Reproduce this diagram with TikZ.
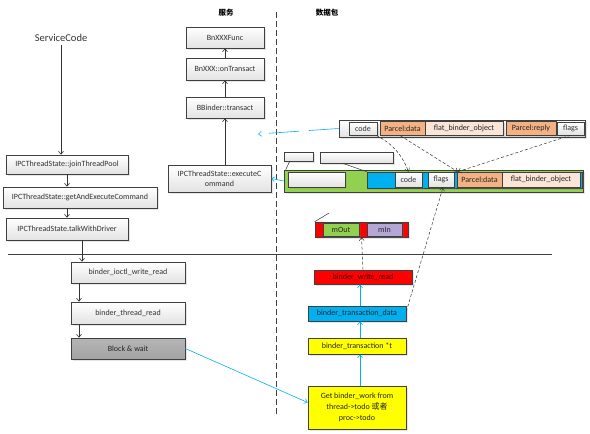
\documentclass[tikz,border=0pt]{standalone}
\usepackage{fontspec}
\setmainfont{Carlito}
\newfontfamily\cjk{Noto Sans CJK SC}
\usetikzlibrary{arrows.meta,shadows}
\definecolor{lcyan}{HTML}{00B0F0}
\definecolor{lgreen}{HTML}{92D050}
\definecolor{lorange}{HTML}{F4B183}
\definecolor{lpeach}{HTML}{FBE5D6}
\definecolor{lpurple}{HTML}{B4A7D6}
\definecolor{txt}{HTML}{333333}
\tikzset{
  box/.style={draw=black!75, line width=0.6pt, top color=white, bottom color=gray!22,
    inner sep=1pt, text=txt, align=center,
    drop shadow={opacity=0.2, shadow xshift=1.5pt, shadow yshift=-1.5pt}},
  flat/.style={box, fill=#1, top color=#1, bottom color=#1, text=black!85},
  arr/.style={-{Straight Barb[length=3pt,width=5pt]}, black!80, line width=0.6pt},
  carr/.style={-{Straight Barb[length=3pt,width=5pt]}, lcyan, line width=0.6pt},
  darr/.style={-{Straight Barb[length=3pt,width=5pt]}, black!80, line width=0.5pt, dash pattern=on 3pt off 2pt},
}
\begin{document}
\begin{tikzpicture}[x=1pt,y=-1pt, font=\fontsize{8}{10}\selectfont]
\useasboundingbox (0,0) rectangle (590,434);

% titles
\node[font=\cjk\fontsize{7.5}{8}\selectfont\bfseries] (t1) at (226,13) {服务};
\node[font=\cjk\fontsize{7.5}{8}\selectfont\bfseries] (t2) at (327,13) {数据包};
\node[font=\fontsize{10.5}{12}\selectfont, text=txt] (sc) at (61,38) {ServiceCode};

% separators
\draw[black!75, line width=0.6pt, dash pattern=on 6pt off 3pt] (276,12) coordinate (vt) -- (276,415) coordinate (vb);
\draw[black!75, line width=0.6pt] (8,254) coordinate (hl) -- (552,254) coordinate (hr);

% left column
\node[box, minimum width=122, minimum height=19] (join) at (67,164.5) {IPCThreadState::joinThreadPool};
\node[box, minimum width=154, minimum height=21] (gaec) at (80,197.5) {IPCThreadState::getAndExecuteCommand};
\node[box, minimum width=122, minimum height=22] (talk) at (67,229) {IPCThreadState.talkWithDriver};
\node[box, minimum width=114, minimum height=21] (ioctl) at (128,272.5) {binder\_ioctl\_write\_read};
\node[box, minimum width=114, minimum height=22] (tread) at (128,313) {binder\_thread\_read};
\node[box, top color=gray!58, bottom color=gray!72, text=black!85, minimum width=114, minimum height=21] (block) at (128,348.5) {Block \& wait};

\draw[arr] (sc.south) -- (sc.south |- join.north);
\draw[arr] (join.south) -- (join.south |- gaec.north);
\draw[arr] (gaec.south -| talk.north) -- (talk.north);
\draw[arr] ([xshift=15]talk.south) -- ([xshift=15]talk.south |- ioctl.north);
\draw[arr] ([xshift=-49]ioctl.south) -- ([xshift=-49]ioctl.south |- tread.north);
\draw[arr] ([xshift=-49]tread.south) -- ([xshift=-49]tread.south |- block.north);

% middle column
\node[box, minimum width=78, minimum height=21] (func) at (225,37.5) {BnXXXFunc};
\node[box, minimum width=78, minimum height=22] (ontr) at (225,69) {BnXXX::onTransact};
\node[box, minimum width=78, minimum height=21] (btr) at (225,107.5) {BBinder::transact};
\node[box, minimum width=103, minimum height=27, inner sep=0pt] (exec) at (219.5,178.5) {IPCThreadState::executeC\\ommand};
\draw[arr] (exec.north -| btr.south) -- (btr.south);
\draw[arr] (btr.north) -- (ontr.south);
\draw[arr] (ontr.north) -- (func.south);

% top packet bar
\node[box, minimum width=246, minimum height=17] (tb) at (462,128.5) {};
\node[box, minimum width=28, minimum height=13, inner sep=0pt] (tcode) at (363,128.5) {code};
\node[flat=lorange, minimum width=45, minimum height=14, inner sep=0pt] (tpd) at (402.5,128.5) {Parcel:data};
\node[flat=lpeach, minimum width=78, minimum height=14, inner sep=0pt] (tfbo) at (464,128.5) {flat\_binder\_object};
\node[flat=lorange, minimum width=50, minimum height=14, inner sep=0pt] (tpr) at (531,128.5) {Parcel:reply};
\node[box, minimum width=27, minimum height=13, inner sep=0pt] (tflags) at (570.5,128.5) {flags};

% green bar
\node[flat=lgreen, minimum width=299, minimum height=22] (gb) at (433.5,181) {};
\node[box, minimum width=57, minimum height=15] (ggray) at (316.5,179.5) {};
\node[flat=lcyan, minimum width=215, minimum height=16] (gblue) at (474.5,180) {};
\node[box, minimum width=27, minimum height=15, inner sep=0pt] (gcode) at (408.5,179.5) {code};
\node[box, minimum width=26, minimum height=15, inner sep=0pt] (gflags) at (441,179.5) {flags};
\node[flat=lorange, minimum width=45, minimum height=15, inner sep=0pt] (gpd) at (479.5,179.5) {Parcel:data};
\node[flat=lpeach, minimum width=78, minimum height=15, inner sep=0pt] (gfbo) at (541,179.5) {flat\_binder\_object};
\node[box, minimum width=29, minimum height=9] (w1) at (298.5,156.5) {};
\node[box, minimum width=73, minimum height=11] (w2) at (356.5,157.5) {};
\draw[black!80, line width=0.5pt] ([xshift=6]w1.south west) -- ([xshift=2]gb.north west);
\draw[black!80, line width=0.5pt] ([xshift=23]w2.south west) -- (gblue.north west);

% mOut / mIn
\node[flat=red, minimum width=93, minimum height=15] (mb) at (361.5,229.5) {};
\node[flat=lgreen, minimum width=36, minimum height=13, inner sep=0pt] (mout) at (341,229.5) {mOut};
\node[flat=lpurple, minimum width=35, minimum height=13, inner sep=0pt] (min) at (384.5,229.5) {mIn};
\coordinate (ml) at (329,213);
\draw[black!80, line width=0.5pt] (mb.north west) -- (ml);

% right column
\node[flat=red, minimum width=98, minimum height=14, inner sep=0pt, text=black!80!red] (wr) at (363,277) {binder\_write\_read};
\node[flat=lcyan, minimum width=98, minimum height=15, inner sep=0pt] (tdata) at (357,313.5) {binder\_transaction\_data};
\node[flat=yellow, minimum width=98, minimum height=16, inner sep=0pt] (tstar) at (357,346) {binder\_transaction *t};
\node[flat=yellow, minimum width=98, minimum height=43, inner sep=0pt, font=\fontsize{8}{11}\selectfont] (gw) at (357,407.5)
  {Get binder\_work from\\thread->todo {\cjk 或者}\\proc->todo};

\draw[carr] ([xshift=3]gw.north) -- ([xshift=3]tstar.south);
\draw[carr] ([xshift=3]tstar.north) -- ([xshift=3]tdata.south);
\draw[carr] ([xshift=3]tdata.north) -- ([xshift=3]tdata.north |- wr.south);
\draw[darr] (wr.north) -- (mb.south);
\draw[darr] ([yshift=2]tdata.east) -- ([xshift=2]gflags.south);

% packet connections
\draw[darr] ([xshift=-1]tcode.south east) to[bend left=20] (gcode.north);
\draw[darr] ([xshift=-2]tpd.south) -- ([xshift=1]gpd.north west);
\draw[darr] (tflags.south) -- ([xshift=1]gpd.north west);

% cyan links
\coordinate (cend) at (258,134);
\draw[carr, dash pattern=on 30pt off 10pt] (tb.west) -- (cend);
\draw[carr] (gb.west) -- (exec.east);
\draw[carr] (block.east) -- ([yshift=5]gw.west);
\end{tikzpicture}
\end{document}
